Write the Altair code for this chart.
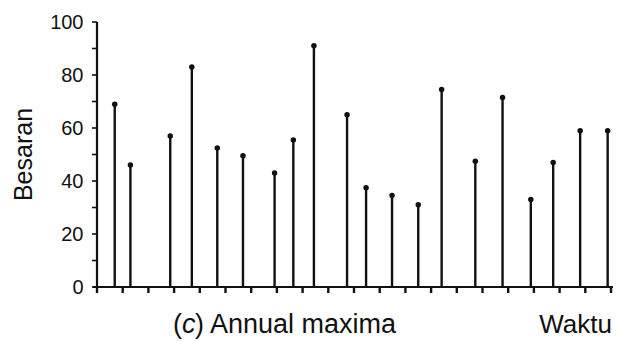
import altair as alt
import pandas as pd

# Data
waktu = [0.69, 1.30, 2.85, 3.69, 4.68, 5.68, 6.91, 7.64, 8.44, 9.73,
         10.47, 11.48, 12.50, 13.41, 14.72, 15.78, 16.88, 17.75, 18.80, 19.87]
besaran = [69, 46, 57, 83, 52.5, 49.5, 43, 55.5, 91, 65,
           37.5, 34.5, 31, 74.5, 47.5, 71.5, 33, 47, 59, 59]
y_ticks = [0, 10, 20, 30, 40, 50, 60, 70, 80, 90, 100]
x_ticks = list(range(0, 21))

df = pd.DataFrame({"waktu": waktu, "besaran": besaran})
dfx = pd.DataFrame({"waktu": x_ticks})
dfy = pd.DataFrame({"besaran": y_ticks})

FONT = "Liberation Sans"
INK = "#111111"

xs = alt.Scale(domain=[0, 20], nice=False, zero=False)
ys = alt.Scale(domain=[0, 100], nice=False)

x_enc = alt.X("waktu:Q", scale=xs, axis=None)
y_enc = alt.Y("besaran:Q", scale=ys,
              axis=alt.Axis(values=y_ticks, title=None, grid=False, ticks=False, domain=False,
                            labelExpr="datum.value % 20 == 0 ? datum.label : ''",
                            labelFont=FONT, labelFontSize=20, labelColor=INK,
                            labelPadding=14))

base = alt.Chart(df)

stems = base.mark_rule(color=INK, strokeWidth=2.4).encode(
    x=x_enc, y=y_enc, y2=alt.datum(0))

dots = base.mark_point(filled=True, shape="circle", size=30, color=INK, opacity=1).encode(
    x="waktu:Q", y="besaran:Q")

# axis lines
x_domain = alt.Chart(pd.DataFrame({"a": [0]})).mark_rule(color=INK, strokeWidth=2.2).encode(
    x=alt.datum(-0.16, scale=xs), x2=alt.datum(20.1), y=alt.datum(0, scale=ys))
y_domain = alt.Chart(pd.DataFrame({"a": [0]})).mark_rule(color=INK, strokeWidth=2.2).encode(
    x=alt.datum(0, scale=xs), y=alt.datum(0, scale=ys), y2=alt.datum(100))

x_tick_marks = alt.Chart(dfx).mark_rule(color=INK, strokeWidth=2.4).encode(
    x=alt.X("waktu:Q", scale=xs), y=alt.value(265), y2=alt.value(271))
y_tick_marks = alt.Chart(dfy).mark_rule(color=INK, strokeWidth=1.6).encode(
    y=alt.Y("besaran:Q", scale=ys), x=alt.value(-5), x2=alt.value(0))

def label(txt, x, y, size=26, style="normal", angle=0, align="left", baseline="alphabetic"):
    return alt.Chart(pd.DataFrame({"t": [txt]})).mark_text(
        font=FONT, fontSize=size, fontStyle=style, color=INK, angle=angle,
        align=align, baseline=baseline
    ).encode(text="t:N", x=alt.value(x), y=alt.value(y))

ylab = label("Besaran", -73, 132.5, size=25, angle=270, align="center", baseline="middle")
t1 = label("(", 76, 311, size=27)
t2 = label("c", 85, 311, size=27, style="italic")
t3 = label(") Annual maxima", 98, 311, size=27)
t4 = label("Waktu", 515, 311, align="right")

chart = alt.layer(stems, dots, x_domain, y_domain, x_tick_marks, y_tick_marks,
                  ylab, t1, t2, t3, t4).properties(
    width=514, height=265,
    autosize=alt.AutoSizeParams(type="none"),
    padding={"left": 89, "top": 14, "right": 2, "bottom": 52},
    background="white",
).configure_view(stroke=None)

chart.save("out.html", embed_options={"renderer": "svg", "actions": False})
